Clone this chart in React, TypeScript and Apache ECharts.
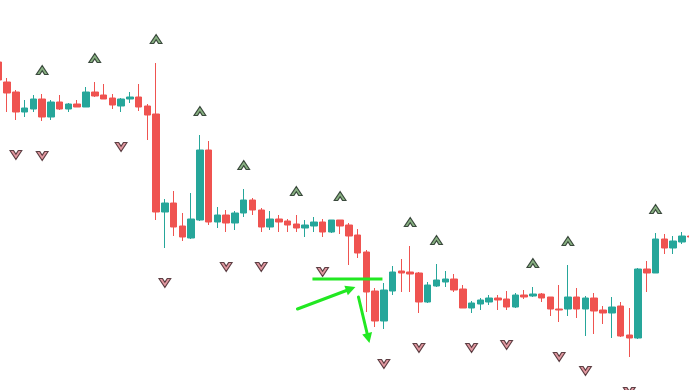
import React, { useEffect, useRef } from "react";
import * as echarts from "echarts";

// [open, close, low, high]
const candles: number[][] = [
  [328, 310, 302, 332],
  [308, 297, 278, 312],
  [298, 278, 270, 300],
  [278, 282, 273, 290],
  [281, 291, 278, 295],
  [291, 273, 269, 296],
  [273, 288, 270, 290],
  [288, 281, 280, 295],
  [281, 286, 278, 287],
  [286, 283, 283, 290],
  [283, 298, 283, 303],
  [298, 294, 293, 308],
  [295, 291, 291, 306],
  [292, 285, 281, 296],
  [284, 291, 278, 292],
  [291, 293, 287, 298],
  [293, 283, 279, 306],
  [284, 275, 250, 286],
  [276, 178, 170, 327],
  [178, 187, 142, 191],
  [187, 163, 154, 199],
  [164, 153, 149, 177],
  [152, 171, 151, 197],
  [170, 240, 169, 255],
  [240, 168, 165, 249],
  [168, 175, 162, 183],
  [175, 167, 158, 180],
  [167, 177, 160, 179],
  [177, 190, 173, 201],
  [190, 180, 175, 192],
  [180, 163, 158, 182],
  [163, 171, 160, 179],
  [171, 168, 158, 175],
  [169, 165, 158, 171],
  [166, 162, 158, 175],
  [162, 165, 153, 170],
  [164, 168, 158, 173],
  [168, 158, 153, 171],
  [158, 170, 157, 170],
  [170, 164, 156, 170],
  [165, 154, 125, 167],
  [155, 137, 132, 161],
  [138, 98, 78, 140],
  [99, 69, 63, 102],
  [69, 100, 61, 107],
  [99, 118, 95, 124],
  [119, 117, 98, 131],
  [118, 116, 98, 144],
  [117, 88, 77, 118],
  [88, 105, 87, 108],
  [104, 110, 103, 126],
  [108, 111, 103, 119],
  [111, 100, 98, 116],
  [101, 82, 82, 105],
  [82, 87, 77, 89],
  [86, 90, 80, 92],
  [88, 92, 85, 95],
  [92, 90, 80, 95],
  [91, 83, 80, 99],
  [83, 95, 82, 97],
  [95, 93, 91, 100],
  [94, 96, 93, 103],
  [96, 92, 88, 97],
  [93, 81, 74, 93],
  [81, 80, 68, 105],
  [81, 93, 74, 125],
  [93, 81, 72, 102],
  [81, 92, 54, 94],
  [92, 79, 56, 97],
  [80, 77, 66, 84],
  [77, 83, 52, 93],
  [84, 54, 53, 88],
  [55, 52, 33, 82],
  [52, 121, 51, 122],
  [121, 117, 98, 129],
  [117, 151, 117, 157],
  [151, 142, 136, 156],
  [142, 149, 136, 154],
  [148, 154, 146, 158],
  [154, 153, 152, 155],
];

const categories: string[] = candles.map((_, i) => String(i + 1));

// indices of candles carrying buy (above) and sell (below) signals
const upSignals: number[] = [5, 11, 18, 23, 28, 34, 39, 47, 50, 61, 65, 75];
const downSignals: number[] = [2, 5, 14, 19, 26, 30, 37, 44, 48, 54, 58, 64, 67, 72];

const UP_PATH = "path://M0,10 L6,1 L12,10 L8.4,10 L6,6.2 L3.6,10 Z";
const DOWN_PATH = "path://M0,0 L3.6,0 L6,3.8 L8.4,0 L12,0 L6,9 Z";

const ARROW = "#22e822";

// the plotted strip is a bit wider than the window (first/last candles clipped)
const PLOT_WIDTH = 701.3;
const PLOT_SHIFT = -6.45;

export default function App() {
  const ref = useRef<HTMLDivElement>(null);

  useEffect(() => {
    document.body.style.margin = "0";
    if (!ref.current) return;
    const chart = echarts.init(ref.current, undefined, { renderer: "svg" });

    const upData = upSignals.map((i) => [i, candles[i][3]]);
    const downData = downSignals.map((i) => [i, candles[i][2]]);
    const gx = (x: number) => x - PLOT_SHIFT;

    chart.setOption({
      animation: false,
      backgroundColor: "#ffffff",
      grid: { left: 0, right: 0, top: 0, bottom: 0, containLabel: false },
      xAxis: {
        type: "category",
        data: categories,
        boundaryGap: true,
        show: false,
      },
      yAxis: {
        type: "value",
        min: 0,
        max: 390,
        show: false,
        splitLine: { show: false },
      },
      series: [
        {
          type: "candlestick",
          data: candles,
          barWidth: 7,
          clip: false,
          itemStyle: {
            color: "#26a69a",
            color0: "#ef5350",
            borderColor: "#26a69a",
            borderColor0: "#ef5350",
            borderWidth: 1,
          },
        },
        {
          type: "scatter",
          data: upData,
          symbol: UP_PATH,
          symbolSize: [12, 9],
          symbolOffset: [0, -24],
          clip: false,
          itemStyle: {
            color: "#6b9c64",
            borderColor: "#17241a",
            borderWidth: 1,
          },
          z: 5,
        },
        {
          type: "scatter",
          data: downData,
          symbol: DOWN_PATH,
          symbolSize: [12, 9],
          symbolOffset: [0, 35],
          clip: false,
          itemStyle: {
            color: "#d97f8a",
            borderColor: "#381a1f",
            borderWidth: 1,
          },
          z: 5,
        },
      ],
      graphic: [
        {
          type: "line",
          shape: { x1: gx(312), y1: 279, x2: gx(382), y2: 279 },
          style: { stroke: ARROW, lineWidth: 3 },
          z: 100,
        },
        {
          type: "line",
          shape: { x1: gx(297), y1: 309, x2: gx(346), y2: 290.5 },
          style: { stroke: ARROW, lineWidth: 3, lineCap: "round" },
          z: 100,
        },
        {
          type: "polygon",
          shape: { points: [[gx(355), 287], [gx(347.4), 295.2], [gx(343.9), 285.8]] },
          style: { fill: ARROW },
          z: 100,
        },
        {
          type: "line",
          shape: { x1: gx(358), y1: 297, x2: gx(366.7), y2: 333.5 },
          style: { stroke: ARROW, lineWidth: 3, lineCap: "round" },
          z: 100,
        },
        {
          type: "polygon",
          shape: { points: [[gx(369), 343], [gx(371.6), 332.1], [gx(361.8), 334.5]] },
          style: { fill: ARROW },
          z: 100,
        },
      ],
    });

    return () => chart.dispose();
  }, []);

  return (
    <div style={{ width: 689, height: 390, overflow: "hidden", position: "relative", background: "#fff" }}>
      <div
        ref={ref}
        style={{ position: "absolute", left: PLOT_SHIFT, top: 0, width: PLOT_WIDTH, height: 390 }}
      />
    </div>
  );
}
